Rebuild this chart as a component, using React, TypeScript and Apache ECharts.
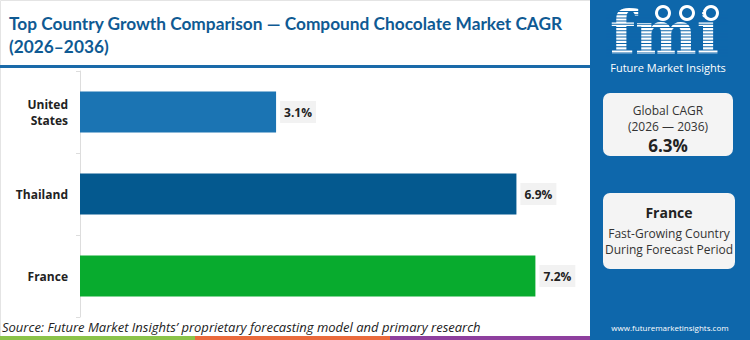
import React, { useEffect, useRef } from "react";
import * as echarts from "echarts";

const categories = ["United\nStates", "Thailand", "France"];
const cagrValues = [3.1, 6.9, 7.2];
const barColors = ["#1b74b3", "#04598f", "#08ab2e"];
const xMax = 8;

const titleLines = ["Top Country Growth Comparison — Compound Chocolate Market CAGR", "(2026–2036)"];
const globalCagr = "6.3%";
const fastCountry = "France";
const sourceText = "Source: Future Market Insights’ proprietary forecasting model and primary research";

const FONT = "'Open Sans', Inter, sans-serif";

export default function App() {
  const ref = useRef<HTMLDivElement>(null);
  useEffect(() => {
    const chart = echarts.init(ref.current!, null, { renderer: "svg" });
    const stripes: any[] = [];
    for (let y = 11; y < 57; y += 3.2) {
      stripes.push({
        type: "rect",
        shape: { x: 606, y, width: 122, height: 1 },
        style: { fill: "#0e67ab" },
        z: 20,
      });
    }
    const centered = (x: number, y: number, text: string, font: string, fill: string, lh: number) => ({
      type: "text",
      x,
      y,
      style: { text, fill, font, align: "center", verticalAlign: "middle", lineHeight: lh },
      z: 11,
    });
    chart.setOption({
      animation: false,
      backgroundColor: "#ffffff",
      grid: { left: 80, right: 164, top: 71, bottom: 23, containLabel: false },
      xAxis: {
        type: "value",
        min: 0,
        max: xMax,
        show: false,
      },
      yAxis: {
        type: "category",
        data: categories,
        inverse: true,
        axisLine: { show: true, lineStyle: { color: "#dddddd", width: 1 } },
        axisTick: { show: true, length: 4, lineStyle: { color: "#dddddd" } },
        axisLabel: {
          color: "#222222",
          fontFamily: FONT,
          fontWeight: "bold",
          fontSize: 12,
          lineHeight: 16,
          margin: 12,
          align: "right",
        },
      },
      series: [
        {
          type: "bar",
          data: cagrValues.map((v, i) => ({ value: v, itemStyle: { color: barColors[i] } })),
          barWidth: "50%",
          label: {
            show: true,
            position: "right",
            distance: 4,
            formatter: (p: any) => p.value.toFixed(1) + "%",
            color: "#222222",
            fontFamily: FONT,
            fontWeight: "bold",
            fontSize: 12,
            backgroundColor: "#f2f2f2",
            padding: [5, 4, 5, 4],
          },
        },
      ],
      graphic: [
        // frame
        { type: "rect", shape: { x: 0.5, y: 0.5, width: 590, height: 338 }, style: { fill: "none", stroke: "#e4e4e4", lineWidth: 1 }, z: 0 },
        // title
        {
          type: "text",
          x: 9,
          y: 12,
          style: {
            text: titleLines.join("\n"),
            fill: "#0f5a93",
            font: `bold 17.3px Lato, sans-serif`,
            lineHeight: 23,
          },
          z: 12,
        },
        { type: "rect", shape: { x: 0, y: 65, width: 591, height: 3 }, style: { fill: "#1a6aa9" } },
        // right panel
        { type: "rect", shape: { x: 590, y: 0, width: 160, height: 340 }, style: { fill: "#0e67ab" }, z: 5 },
        // logo
        {
          type: "text",
          x: 610,
          y: 33,
          scaleX: 1.12,
          scaleY: 1.15,
          originX: 0,
          originY: 0,
          style: { text: "fmi", fill: "#ffffff", font: `bold 52px 'DejaVu Serif', serif`, letterSpacing: 1, verticalAlign: "middle", lineHeight: 38 },
          z: 10,
        },
        ...stripes,
        { type: "circle", shape: { cx: 663, cy: 13, r: 8 }, style: { fill: "#ffffff" }, z: 21 },
        { type: "circle", shape: { cx: 687, cy: 13, r: 8 }, style: { fill: "#ffffff" }, z: 21 },
        { type: "circle", shape: { cx: 711, cy: 13, r: 8 }, style: { fill: "#ffffff" }, z: 21 },
        { type: "circle", shape: { cx: 663, cy: 13, r: 5 }, style: { fill: "#0e67ab" }, z: 22 },
        { type: "circle", shape: { cx: 687, cy: 13, r: 5 }, style: { fill: "#0e67ab" }, z: 22 },
        { type: "circle", shape: { cx: 711, cy: 13, r: 5 }, style: { fill: "#0e67ab" }, z: 22 },
        centered(668, 67, "Future Market Insights", `11px ${FONT}`, "#ffffff", 12),
        // card 1
        { type: "rect", shape: { x: 603, y: 93, width: 130, height: 63, r: 7 }, style: { fill: "#f4f4f4" }, z: 10 },
        centered(668, 110, "Global CAGR", `12px ${FONT}`, "#333333", 14),
        centered(668, 126, "(2026 — 2036)", `12px ${FONT}`, "#333333", 14),
        centered(668, 145, globalCagr, `bold 17px ${FONT}`, "#222222", 18),
        // card 2
        { type: "rect", shape: { x: 603, y: 193, width: 132, height: 76, r: 7 }, style: { fill: "#f4f4f4" }, z: 10 },
        centered(669, 212, fastCountry, `bold 14px ${FONT}`, "#222222", 16),
        centered(669, 233, "Fast-Growing Country", `12px ${FONT}`, "#333333", 14),
        centered(669, 249, "During Forecast Period", `12px ${FONT}`, "#333333", 14),
        // website
        centered(670, 327, "www.futuremarketinsights.com", `8px ${FONT}`, "#ffffff", 10),
        // source
        { type: "text", x: 2, y: 320, style: { text: sourceText, fill: "#222222", font: `italic 13px ${FONT}` }, z: 11 },
        // bottom strips
        { type: "rect", shape: { x: 0, y: 336, width: 195, height: 4 }, style: { fill: "#8bc34a" }, z: 11 },
        { type: "rect", shape: { x: 195, y: 336, width: 195, height: 4 }, style: { fill: "#ea6a3c" }, z: 11 },
        { type: "rect", shape: { x: 390, y: 336, width: 200, height: 4 }, style: { fill: "#8e3f9e" }, z: 11 },
      ],
    });
    return () => chart.dispose();
  }, []);
  return <div ref={ref} style={{ position: "absolute", left: 0, top: 0, width: 750, height: 340 }} />;
}
